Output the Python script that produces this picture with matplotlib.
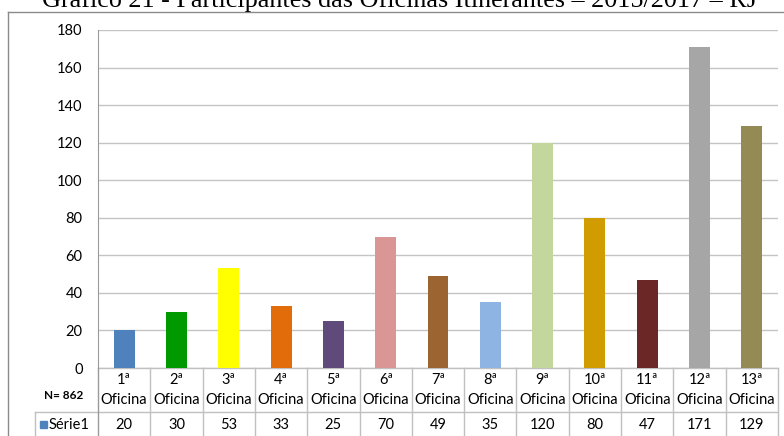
import matplotlib
matplotlib.use("Agg")
import matplotlib.pyplot as plt
from matplotlib.lines import Line2D
from matplotlib.patches import Rectangle
import matplotlib.transforms as mtransforms

# Participants per workshop
categories = ["1ª", "2ª", "3ª", "4ª", "5ª", "6ª", "7ª", "8ª", "9ª", "10ª", "11ª", "12ª", "13ª"]
values = [20, 30, 53, 33, 25, 70, 49, 35, 120, 80, 47, 171, 129]
colors = ["#4f81bd", "#009900", "#ffff00", "#e36c0a", "#604a7b", "#d99694",
          "#9c6431", "#8eb4e3", "#c3d69b", "#d19c00", "#6b2626", "#a6a6a6", "#948a54"]
yticks = [0, 20, 40, 60, 80, 100, 120, 140, 160, 180]
title = "Gráfico 21 - Participantes das Oficinas Itinerantes – 2015/2017 – RJ"
series_name = "Série1"
total_label = "N= 862"

W, H = 784, 436
fig = plt.figure(figsize=(W / 100, H / 100), dpi=100)
plt.rcParams["font.family"] = ["Lato", "DejaVu Sans"]
FS = 10.5

# axes placement in pixels
L, R, T, B = 98, 778, 30, 368
ax = fig.add_axes([L / W, (H - B) / H, (R - L) / W, (B - T) / H])

x = list(range(len(categories)))
ax.bar(x, values, width=0.4, color=colors, zorder=3)
ax.set_xlim(-0.5, len(categories) - 0.5)
ax.set_ylim(0, 180)
ax.set_yticks(yticks)
ax.set_xticks([])
ax.tick_params(axis="y", length=0, pad=11, labelsize=FS, labelcolor="black")
ax.grid(axis="y", color="#c4c4c4", linewidth=1.0, zorder=0)
for s in ["top", "right", "bottom"]:
    ax.spines[s].set_visible(False)
ax.spines["left"].set_color("#9a9a9a")

grid_c = "#c0c0c0"
axh = B - T
def fy(py):
    # pixel row below the axes -> axes fraction
    return -(py - B) / axh

blend = mtransforms.blended_transform_factory(ax.transData, ax.transAxes)
y_bottom = fy(H + 5)
y_mid = fy(412)

# table grid
ax.plot([-0.5, len(categories) - 0.5], [0, 0], transform=blend, color=grid_c, lw=1, clip_on=False)
ax.plot([-0.5, len(categories) - 0.5], [y_mid, y_mid], transform=blend, color=grid_c, lw=1, clip_on=False)
x_left = (35 - L) / (R - L)
ax.plot([x_left, 0], [y_mid, y_mid], transform=ax.transAxes, color=grid_c, lw=1, clip_on=False)
ax.plot([x_left, x_left], [y_mid, y_bottom], transform=ax.transAxes, color=grid_c, lw=1, clip_on=False)
for k in range(len(categories) + 1):
    c = "#9a9a9a" if k == 0 else grid_c
    ax.plot([k - 0.5, k - 0.5], [0, y_bottom], transform=blend, color=c, lw=1, clip_on=False)

for i, (cat, v) in enumerate(zip(categories, values)):
    ax.text(i, fy(380), cat, transform=blend, ha="center", va="center", fontsize=FS)
    ax.text(i, fy(400), "Oficina", transform=blend, ha="center", va="center", fontsize=FS)
    ax.text(i, fy(425), str(v), transform=blend, ha="center", va="center", fontsize=FS)

ax.text((64 - L) / (R - L), fy(395), total_label, transform=ax.transAxes,
        ha="center", va="center", fontsize=8.5, fontweight="bold")
ax.add_patch(Rectangle(((40 - L) / (R - L), fy(428)), 7 / (R - L), 7 / axh,
                       transform=ax.transAxes, color=colors[0], clip_on=False))
ax.text((49 - L) / (R - L), fy(425), series_name, transform=ax.transAxes,
        ha="left", va="center", fontsize=FS)

# outer chart frame
fig.add_artist(Line2D([7.5 / W, 7.5 / W], [0, 1 - 12 / H], color="#8a8a8a", lw=1))
fig.add_artist(Line2D([7.5 / W, 1], [1 - 12 / H, 1 - 12 / H], color="#8a8a8a", lw=1))

# title, sized to its printed width
t = fig.text(400 / W, 1 - 7 / H, title, ha="center", va="baseline",
             family="Liberation Serif", fontsize=18)
fig.canvas.draw()
w = t.get_window_extent().width
t.set_fontsize(18 * 715 / w)

fig.savefig("out.png", dpi=100)
